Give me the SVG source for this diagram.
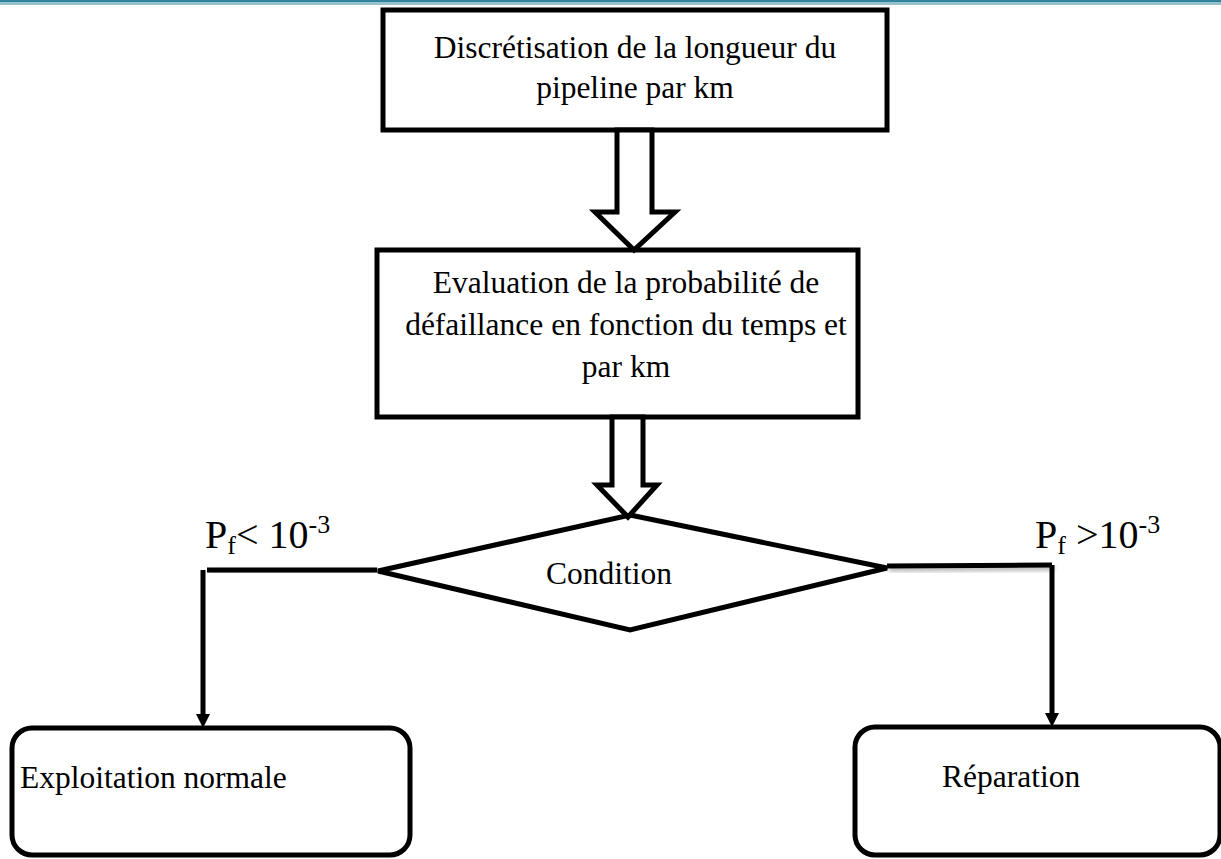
<svg xmlns="http://www.w3.org/2000/svg" width="1221" height="859" viewBox="0 0 1221 859">
  <defs>
    <style>
      .box { fill: #fff; stroke: #000; stroke-width: 5; }
      .blk { fill: #fff; stroke: #000; stroke-width: 5; stroke-linejoin: miter; }
      .lbl { font-family: "Liberation Serif", "Times New Roman", serif; font-size: 31.5px; fill: #000; }
      .cond { font-family: "Liberation Serif", "Times New Roman", serif; font-size: 40px; fill: #000; }
      .wire { fill: none; stroke: #000; stroke-width: 5; }
    </style>
    <filter id="soft" x="-5%" y="-50%" width="110%" height="200%">
      <feGaussianBlur in="SourceAlpha" stdDeviation="2"/>
      <feOffset dx="2" dy="3" result="b"/>
      <feComponentTransfer><feFuncA type="linear" slope="0.3"/></feComponentTransfer>
      <feMerge><feMergeNode/><feMergeNode in="SourceGraphic"/></feMerge>
    </filter>
  </defs>

  <!-- page rule -->
  <rect x="0" y="0" width="1221" height="2.5" fill="#31849B"/>
  <rect x="0" y="3.5" width="1221" height="1" fill="#31849B"/>

  <g id="discretisation">
    <rect class="box" x="383" y="10" width="504" height="120"/>
    <text class="lbl" x="635" y="58" text-anchor="middle">Discrétisation de la longueur du</text>
    <text class="lbl" x="635" y="98" text-anchor="middle">pipeline par km</text>
  </g>

  <g id="evaluation">
    <rect class="box" x="377" y="250" width="481" height="167"/>
    <text class="lbl" x="626" y="293" text-anchor="middle">Evaluation de la probabilité de</text>
    <text class="lbl" x="626" y="335" text-anchor="middle">défaillance en fonction du temps et</text>
    <text class="lbl" x="626" y="377" text-anchor="middle">par km</text>
  </g>

  <g id="condition">
    <polygon class="box" points="630,515 887,568 630,630 378,571"/>
    <text class="lbl" x="546" y="584">Condition</text>
  </g>

  <g id="exploitation">
    <rect class="box" x="12" y="728" width="398" height="127" rx="20" ry="20"/>
    <text class="lbl" x="20" y="788">Exploitation normale</text>
  </g>

  <g id="reparation">
    <rect class="box" x="855" y="727" width="365" height="128" rx="20" ry="20"/>
    <text class="lbl" x="942" y="787">Réparation</text>
  </g>

  <g id="connectors">
    <!-- hollow block arrows -->
    <polygon class="blk" points="617,130 652,130 652,212 675,212 634,250 595,212 617,212"/>
    <polygon class="blk" points="612,417 643,417 643,485 657,485 628,517 597,485 612,485"/>
    <!-- outcome branches -->
    <g filter="url(#soft)">
      <line class="wire" x1="377" y1="570" x2="207" y2="570"/>
      <line class="wire" x1="887" y1="566" x2="1052" y2="565"/>
    </g>
    <line class="wire" x1="203" y1="570" x2="203" y2="716"/>
    <polygon points="196,714 210,714 203,728" fill="#000"/>
    <line class="wire" x1="1052" y1="565" x2="1052" y2="715"/>
    <polygon points="1045,713 1059,713 1052,727" fill="#000"/>
  </g>

  <g id="labels">
    <text class="cond" x="205" y="548">P<tspan font-size="26" dy="6">f</tspan><tspan dy="-6">&lt; 10</tspan><tspan font-size="26" dy="-15">-3</tspan></text>
    <text class="cond" x="1035" y="548">P<tspan font-size="26" dy="6">f</tspan><tspan dy="-6"> &gt;10</tspan><tspan font-size="26" dy="-15">-3</tspan></text>
  </g>
</svg>
